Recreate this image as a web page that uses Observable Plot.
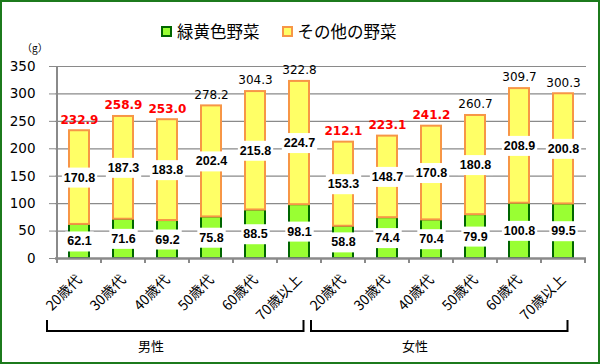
<!DOCTYPE html>
<html><head><meta charset="utf-8">
<script src="https://cdn.jsdelivr.net/npm/d3@7"></script>
<script src="https://cdn.jsdelivr.net/npm/@observablehq/plot@0.6"></script>
<style>
body{margin:0;background:#fff;}
#wrap{position:relative;width:600px;height:364px;overflow:hidden;font-family:"Noto Sans CJK JP",sans-serif;background:#fff;}
#wrap svg{position:absolute;left:0;top:0;}
#border{position:absolute;left:0;top:0;width:600px;height:364px;box-sizing:border-box;border:2px solid #1c7a1c;pointer-events:none;}
#legend{position:absolute;left:161px;top:19px;display:flex;align-items:center;font-size:16.5px;line-height:24px;color:#000;white-space:nowrap;}
#legend .sw{display:inline-block;width:11px;height:11px;box-sizing:border-box;border:2px solid;margin-right:5px;}
#unit{position:absolute;left:22px;top:42px;font-size:10px;line-height:12px;color:#000;}
</style></head>
<body><div id="wrap"><div id="legend"></div><div id="unit"></div><div id="border"></div></div>
<script>
const groups = ["男性", "女性"];
const ages = ["20歳代", "30歳代", "40歳代", "50歳代", "60歳代", "70歳以上"];
const seriesNames = ["緑黄色野菜", "その他の野菜"];
const greenMale = [62.1, 71.6, 69.2, 75.8, 88.5, 98.1];
const otherMale = [170.8, 187.3, 183.8, 202.4, 215.8, 224.7];
const totalMale = [232.9, 258.9, 253.0, 278.2, 304.3, 322.8];
const greenFemale = [58.8, 74.4, 70.4, 79.9, 100.8, 99.5];
const otherFemale = [153.3, 148.7, 170.8, 180.8, 208.9, 200.8];
const totalFemale = [212.1, 223.1, 241.2, 260.7, 309.7, 300.3];
const yTicks = [0, 50, 100, 150, 200, 250, 300, 350];
const unitLabel = "（g）";

const highlightAges = new Set(["20歳代", "30歳代", "40歳代"]);
const GREEN = "#99ff33", GREEN_STROKE = "#006600", YELLOW = "#ffff66", ORANGE = "#f79646";

const rows = [];
groups.forEach((g, gi) => {
  const gr = gi === 0 ? greenMale : greenFemale;
  const ot = gi === 0 ? otherMale : otherFemale;
  const tt = gi === 0 ? totalMale : totalFemale;
  ages.forEach((a, i) => rows.push({key: g + "|" + a, group: g, age: a, green: gr[i], other: ot[i], total: tt[i]}));
});
const keys = rows.map(d => d.key);

// legend
const legend = document.getElementById("legend");
[[GREEN, GREEN_STROKE], [YELLOW, ORANGE]].forEach(([f, s], i) => {
  const sw = document.createElement("span");
  sw.className = "sw"; sw.style.background = f; sw.style.borderColor = s;
  if (i > 0) sw.style.marginLeft = "22px";
  legend.appendChild(sw);
  const t = document.createElement("span"); t.textContent = seriesNames[i];
  legend.appendChild(t);
});
document.getElementById("unit").textContent = unitLabel;

const inset = 12;
const svg = Plot.plot({
  width: 600, height: 364,
  marginTop: 66, marginBottom: 106, marginLeft: 55, marginRight: 14,
  style: {background: "transparent", fontFamily: "DejaVu Sans"},
  x: {domain: keys, padding: 0},
  y: {domain: [0, 350]},
  marks: [
    Plot.gridY(yTicks, {stroke: "#8a8a8a", strokeOpacity: 1, strokeWidth: 1.2}),
    Plot.barY(rows, {x: "key", y1: 0, y2: "green", fill: GREEN, stroke: GREEN_STROKE, strokeWidth: 2, insetLeft: inset, insetRight: inset}),
    Plot.barY(rows, {x: "key", y1: "green", y2: d => d.green + d.other, fill: YELLOW, stroke: ORANGE, strokeWidth: 2, insetLeft: inset, insetRight: inset}),
    Plot.ruleY([0], {stroke: "#8a8a8a", strokeWidth: 2.5}),
    Plot.axisY({ticks: yTicks, tickSize: 6, tickPadding: 14, fontSize: 13.5, fill: "#000", stroke: "#8a8a8a", label: null, fontFamily: "DejaVu Sans"}),
    Plot.axisX({tickSize: 0, tickRotate: -45, tickPadding: 19, dx: 0, tickFormat: k => k.split("|")[1], fontSize: 14, fill: "#000", label: null, fontFamily: "Noto Sans CJK JP"}),
    Plot.text(rows, {x: "key", y: d => d.green / 2, text: d => d.green.toFixed(1), fontSize: 12.5, fontWeight: "bold", fontFamily: "Liberation Sans", fill: "#000"}),
    Plot.text(rows, {x: "key", y: d => d.green + d.other / 2, text: d => d.other.toFixed(1), fontSize: 12.5, fontWeight: "bold", fontFamily: "Liberation Sans", fill: "#000"}),
    Plot.text(rows.filter(d => highlightAges.has(d.age)), {x: "key", y: "total", text: d => d.total.toFixed(1), dy: -11, fontSize: 12, fontWeight: "bold", fill: "#ff0000", fontFamily: "DejaVu Sans"}),
    Plot.text(rows.filter(d => !highlightAges.has(d.age)), {x: "key", y: "total", text: d => d.total.toFixed(1), dy: -11, fontSize: 12, fill: "#000", fontFamily: "DejaVu Sans"})
  ]
});
const wrap = document.getElementById("wrap");
wrap.insertBefore(svg, wrap.firstChild);

const NS = "http://www.w3.org/2000/svg";
// white boxes behind inner labels (first two text marks)
const textGroups = Array.from(svg.querySelectorAll('g[aria-label="text"]')).slice(0, 2);
textGroups.forEach(g => {
  Array.from(g.querySelectorAll("text")).forEach(t => {
    const bb = t.getBBox();
    const r = document.createElementNS(NS, "rect");
    r.setAttribute("x", bb.x - 2);
    r.setAttribute("y", bb.y - 3);
    r.setAttribute("width", bb.width + 4);
    r.setAttribute("height", bb.height + 6);
    r.setAttribute("fill", "#fff");
    r.setAttribute("stroke", "none");
    if (t.getAttribute("transform")) r.setAttribute("transform", t.getAttribute("transform"));
    t.parentNode.insertBefore(r, t);
  });
});

const xs = svg.scale("x"), ys = svg.scale("y");
const bw = xs.bandwidth;
const y0 = ys.apply(0), yTop = ys.apply(350);
const deco = d3.select(svg).append("g");
// y axis line
deco.append("line").attr("x1", xs.apply(keys[0])).attr("x2", xs.apply(keys[0]))
  .attr("y1", yTop).attr("y2", y0).attr("stroke", "#8a8a8a").attr("stroke-width", 2);
// x ticks at band boundaries
const bounds = keys.map(k => xs.apply(k)).concat([xs.apply(keys[keys.length - 1]) + bw]);
bounds.forEach(bx => deco.append("line").attr("x1", bx).attr("x2", bx).attr("y1", y0).attr("y2", y0 + 5)
  .attr("stroke", "#8a8a8a").attr("stroke-width", 2));
// group brackets and labels
groups.forEach(g => {
  const gk = keys.filter(k => k.startsWith(g + "|"));
  const left = xs.apply(gk[0]) - 10;
  const right = xs.apply(gk[gk.length - 1]) + bw - 17.5;
  deco.append("path").attr("d", `M${left},${y0 + 62}V${y0 + 73}H${right}V${y0 + 62}`)
    .attr("fill", "none").attr("stroke", "#000").attr("stroke-width", 2);
  deco.append("text").attr("x", xs.apply(gk[2]) + 6).attr("y", y0 + 89).attr("text-anchor", "middle")
    .attr("dominant-baseline", "middle").attr("font-size", 13).attr("font-family", "Noto Sans CJK JP").text(g);
});
</script>
</body></html>
